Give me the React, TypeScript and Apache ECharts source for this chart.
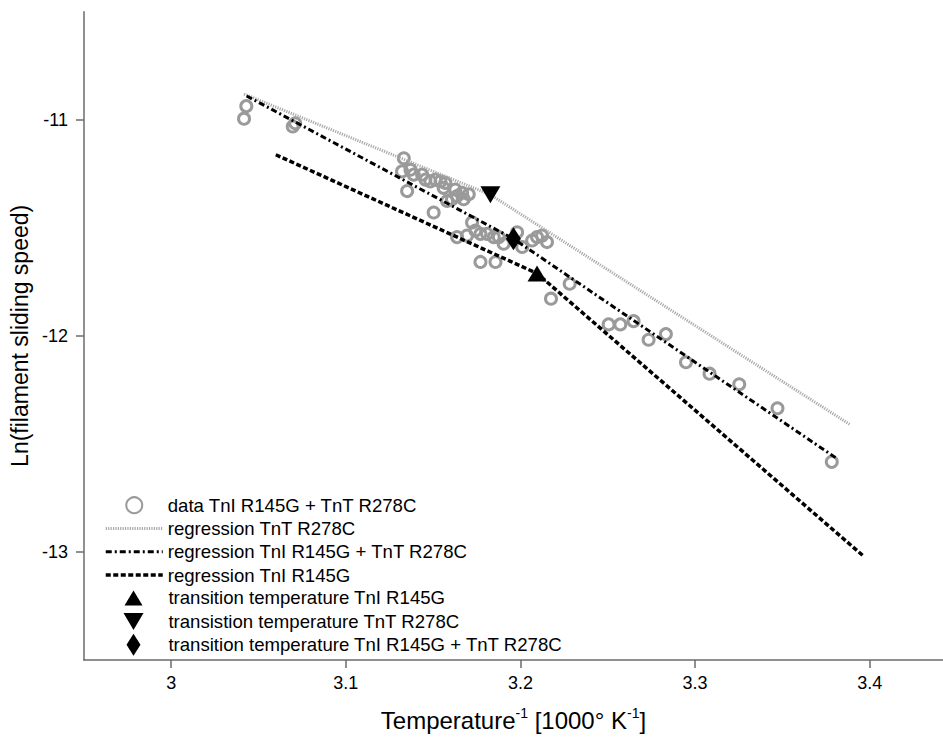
import React, { useEffect, useRef } from "react";
import * as echarts from "echarts";

// ---------- data ----------
const xTicks = [3, 3.1, 3.2, 3.3, 3.4];
const yTicks = [-13, -12, -11];

const dataX = [
  3.0417, 3.043, 3.0696, 3.071,
  3.1332, 3.1322, 3.137, 3.1351, 3.1389, 3.1437, 3.1456, 3.1484, 3.1513, 3.1542,
  3.157, 3.156, 3.1503, 3.1627, 3.1637, 3.1666, 3.1675, 3.1704, 3.1608, 3.158,
  3.1723, 3.1637, 3.1694, 3.1742, 3.1771, 3.1809, 3.1847, 3.1876, 3.1904, 3.1981,
  3.201, 3.2067, 3.2095, 3.2124, 3.2152, 3.1771, 3.1857,
  3.2282, 3.2175, 3.2505, 3.2572, 3.2648, 3.2734, 3.2833, 3.2948, 3.3083, 3.3253,
  3.3472, 3.3783,
];
const dataY = [
  -10.995, -10.937, -11.031, -11.016,
  -11.178, -11.239, -11.231, -11.33, -11.254, -11.254, -11.277, -11.285, -11.277, -11.285,
  -11.292, -11.315, -11.429, -11.323, -11.353, -11.338, -11.368, -11.345, -11.368, -11.376,
  -11.475, -11.543, -11.536, -11.513, -11.528, -11.528, -11.543, -11.543, -11.574, -11.521,
  -11.589, -11.559, -11.543, -11.536, -11.566, -11.658, -11.658,
  -11.759, -11.828, -11.947, -11.947, -11.932, -12.018, -11.992, -12.122, -12.175, -12.224,
  -12.335, -12.583,
];

const regTnTX = [3.0417, 3.1828, 3.3888];
const regTnTY = [-10.881, -11.347, -12.411];
const regBothX = [3.0432, 3.196, 3.3809];
const regBothY = [-10.89, -11.551, -12.566];
const regTnIX = [3.0599, 3.2095, 3.397];
const regTnIY = [-11.162, -11.711, -13.023];

const transTnI = [3.2095, -11.711];
const transTnT = [3.1828, -11.347];
const transBoth = [3.196, -11.551];

const names = [
  "data TnI R145G + TnT R278C",
  "regression TnT R278C",
  "regression TnI R145G + TnT R278C",
  "regression TnI R145G",
  "transition temperature TnI R145G",
  "transistion temperature TnT R278C",
  "transition temperature TnI R145G + TnT R278C",
];

const FONT = "'Liberation Sans', Arial, sans-serif";
const zip = (xs: number[], ys: number[]) => xs.map((x, i) => [x, ys[i]]);

export default function App() {
  const ref = useRef<HTMLDivElement>(null);
  useEffect(() => {
    if (!ref.current) return;
    const chart = echarts.init(ref.current, undefined, { renderer: "svg" });
    const axisColor = "#6b6b6b";
    const hideSym = { color: "rgba(0,0,0,0)", borderWidth: 0, borderColor: "rgba(0,0,0,0)" };
    const legText = (padLeft: number) => ({
      fontSize: 18.6,
      lineHeight: 18.5,
      color: "#000",
      fontFamily: FONT,
      padding: [0, 0, 0, padLeft],
    });
    const symLegend = (name: string, icon: string, w: number, h: number, centerY: number) => ({
      orient: "vertical",
      padding: 0,
      left: 133.5 - w / 2,
      top: centerY - Math.max(h, 18.5) / 2,
      itemWidth: w,
      itemHeight: h,
      data: [{ name, icon }],
      textStyle: legText(168.4 - (133.5 - w / 2) - w - 5),
    });
    chart.setOption({
      animation: false,
      backgroundColor: "#ffffff",
      grid: { left: 83.3, right: 0, top: 11.7, bottom: 70.3, containLabel: false },
      xAxis: {
        type: "value",
        min: 2.95,
        max: 3.442,
        axisLine: { show: true, lineStyle: { color: axisColor, width: 1.5 } },
        axisTick: { show: true, length: 8, customValues: xTicks, lineStyle: { color: axisColor, width: 1.5 } },
        axisLabel: { customValues: xTicks, margin: 14, fontSize: 18, color: "#000", fontFamily: FONT },
        splitLine: { show: false },
        name: "{a|Temperature}{s|-1}{a| [1000° K}{s|-1}{a|]}",
        nameLocation: "middle",
        nameGap: 46,
        nameTextStyle: {
          fontFamily: FONT,
          color: "#000",
          fontSize: 24,
          rich: {
            a: { fontSize: 24, fontFamily: FONT, color: "#000", lineHeight: 28 },
            s: { fontSize: 14, fontFamily: FONT, color: "#000", lineHeight: 14, verticalAlign: "top" },
          },
        },
      },
      yAxis: {
        type: "value",
        min: -13.5,
        max: -10.5,
        axisLine: { show: true, lineStyle: { color: axisColor, width: 1.5 } },
        axisTick: { show: true, length: 8, customValues: yTicks, lineStyle: { color: axisColor, width: 1.5 } },
        axisLabel: { customValues: yTicks, margin: 16, fontSize: 18, color: "#000", fontFamily: FONT },
        splitLine: { show: false },
        name: "Ln(filament sliding speed)",
        nameLocation: "middle",
        nameGap: 44,
        nameTextStyle: { fontFamily: FONT, color: "#000", fontSize: 23 },
      },
      legend: [
        {
          orient: "vertical",
          padding: 0,
          left: 104,
          top: 495.7,
          itemWidth: 57,
          itemHeight: 16,
          itemGap: 4.3,
          lineStyle: { width: "inherit" },
          data: [
            { name: names[0] },
            { name: names[1], itemStyle: hideSym },
            { name: names[2], itemStyle: hideSym },
            { name: names[3], itemStyle: hideSym },
          ],
          textStyle: legText(0),
        },
        symLegend(names[4], "path://M9,0L18,15L0,15Z", 18, 15, 597.7),
        symLegend(names[5], "path://M0,0L20,0L10,17Z", 20, 17, 621.3),
        symLegend(names[6], "path://M7,0L14,11L7,22L0,11Z", 14, 22, 644.7),
      ],
      series: [
        {
          name: names[0],
          type: "scatter",
          data: zip(dataX, dataY),
          symbol: "circle",
          symbolSize: 11,
          itemStyle: { color: "rgba(255,255,255,0)", borderColor: "#9a9a9a", borderWidth: 3, opacity: 1 },
          z: 2,
        },
        {
          name: names[1],
          type: "line",
          data: zip(regTnTX, regTnTY),
          symbol: "none",
          lineStyle: { color: "#a8a8a8", width: 3, type: [1.2, 1.2] },
          itemStyle: { color: "#a8a8a8" },
          z: 3,
        },
        {
          name: names[2],
          type: "line",
          data: zip(regBothX, regBothY),
          symbol: "none",
          lineStyle: { color: "#000", width: 3, type: [6, 3, 2, 3] },
          itemStyle: { color: "#000" },
          z: 3,
        },
        {
          name: names[3],
          type: "line",
          data: zip(regTnIX, regTnIY),
          symbol: "none",
          lineStyle: { color: "#000", width: 3.5, type: [5, 2.5] },
          itemStyle: { color: "#000" },
          z: 3,
        },
        {
          name: names[4],
          type: "scatter",
          data: [transTnI],
          symbol: "triangle",
          symbolSize: [19, 16],
          itemStyle: { color: "#000", opacity: 1 },
          z: 4,
        },
        {
          name: names[5],
          type: "scatter",
          data: [transTnT],
          symbol: "triangle",
          symbolRotate: 180,
          symbolSize: [20, 17],
          itemStyle: { color: "#000", opacity: 1 },
          z: 4,
        },
        {
          name: names[6],
          type: "scatter",
          data: [transBoth],
          symbol: "diamond",
          symbolSize: [15, 23],
          itemStyle: { color: "#000", opacity: 1 },
          z: 4,
        },
      ],
    });
    return () => chart.dispose();
  }, []);
  return (
    <div
      ref={ref}
      style={{ position: "fixed", left: 0, top: 0, width: 943, height: 737, background: "#fff" }}
    />
  );
}
